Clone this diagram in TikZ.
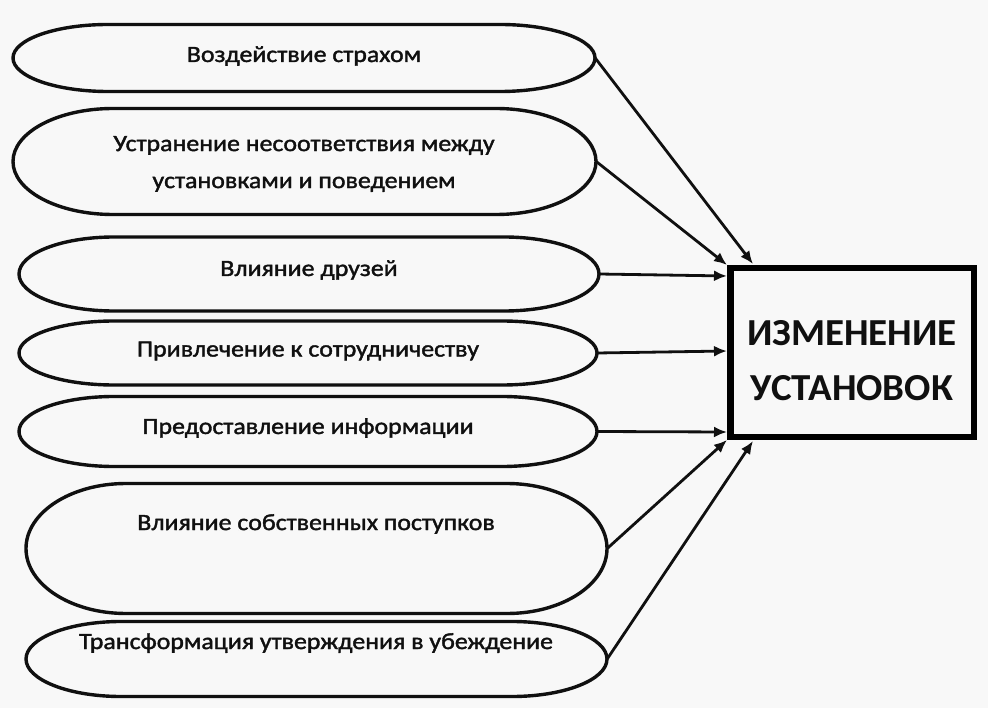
\documentclass[tikz,border=0pt]{standalone}
\usepackage{fontspec}
\setmainfont{Carlito}
\newfontfamily\ovfont[FakeStretch=1.11,FakeBold=1.6]{Carlito}
\newfontfamily\boxfont[FakeStretch=1.02]{Carlito}
\usetikzlibrary{arrows.meta}
\definecolor{bg}{HTML}{F8F8F8}
\definecolor{ink}{HTML}{101010}
\tikzset{
  ovaltext/.style={font=\ovfont\fontsize{23.3}{37}\selectfont, text=ink, align=center, inner sep=0pt},
  ovalline/.style={line width=3.4pt, draw=ink},
  ovalbox/.style={draw=none, inner sep=0pt},
  arr/.style={line width=2.8pt, draw=ink, -{Latex[length=13pt,width=11pt]}},
  bigbox/.style={draw=black, line width=6.5pt, minimum width=243.5pt, minimum height=168.5pt},
  boxtext/.style={font=\boxfont\bfseries\fontsize{38.2}{55}\selectfont, text=ink, align=center, inner sep=0pt}
}
% name, cx, cy, hw, hh, rx
\newcommand\myoval[6]{%
  \node[ovalbox, minimum width=2*#4 pt, minimum height=2*#5 pt] (#1) at (#2,#3) {};
  \draw[ovalline] (#2-#4+#6,#3-#5) -- (#2+#4-#6,#3-#5)
    .. controls (#2+#4-0.448*#6,#3-#5) and (#2+#4,#3-0.552*#5) .. (#2+#4,#3)
    .. controls (#2+#4,#3+0.552*#5) and (#2+#4-0.448*#6,#3+#5) .. (#2+#4-#6,#3+#5)
    -- (#2-#4+#6,#3+#5)
    .. controls (#2-#4+0.448*#6,#3+#5) and (#2-#4,#3+0.552*#5) .. (#2-#4,#3)
    .. controls (#2-#4,#3-0.552*#5) and (#2-#4+0.448*#6,#3-#5) .. cycle;
}
\begin{document}
\begin{tikzpicture}[x=1pt,y=-1pt]
\fill[bg] (0,0) rectangle (988,708);
\useasboundingbox (0,0) rectangle (988,708);

\myoval{o1}{304}{58}{291}{33.5}{95}
\node[ovaltext] (t1) at (304,56) {Воздействие страхом};

\myoval{o2}{304.5}{161.5}{291.5}{53}{100}
\node[ovaltext] (t2) at (304,164) {Устранение несоответствия между\\установками и поведением};

\myoval{o3}{309}{274}{290}{37}{95}
\node[ovaltext] (t3) at (309,270) {Влияние друзей};

\myoval{o4}{308}{353}{289}{32}{95}
\node[ovaltext] (t4) at (308,351) {Привлечение к сотрудничеству};

\myoval{o5}{308}{431.5}{289}{35}{95}
\node[ovaltext] (t5) at (308,428) {Предоставление информации};

\myoval{o6}{316.5}{548.5}{290.5}{65}{100}
\node[ovaltext] (t6) at (316,524) {Влияние собственных поступков};

\myoval{o7}{316.5}{659}{290.5}{37.5}{95}
\node[ovaltext] (t7) at (316,643) {Трансформация утверждения в убеждение};

\node[bigbox] (box) at (852,352.5) {};
\node[boxtext] (boxt) at (852,361) {ИЗМЕНЕНИЕ\\УСТАНОВОК};

\coordinate (b1) at (753,264);
\coordinate (b7) at (753,441);
\draw[arr] (o1.east) -- (b1);
\draw[arr] (o2.east) -- (box.north west);
\draw[arr] (o3.east) -- (box.west |- 0,276);
\draw[arr] (o4.east) -- (box.west |- 0,351);
\draw[arr] (o5.east) -- (box.west |- 0,432);
\draw[arr] (o6.east) -- (box.south west);
\draw[arr] (o7.east) -- (b7);
\end{tikzpicture}
\end{document}
